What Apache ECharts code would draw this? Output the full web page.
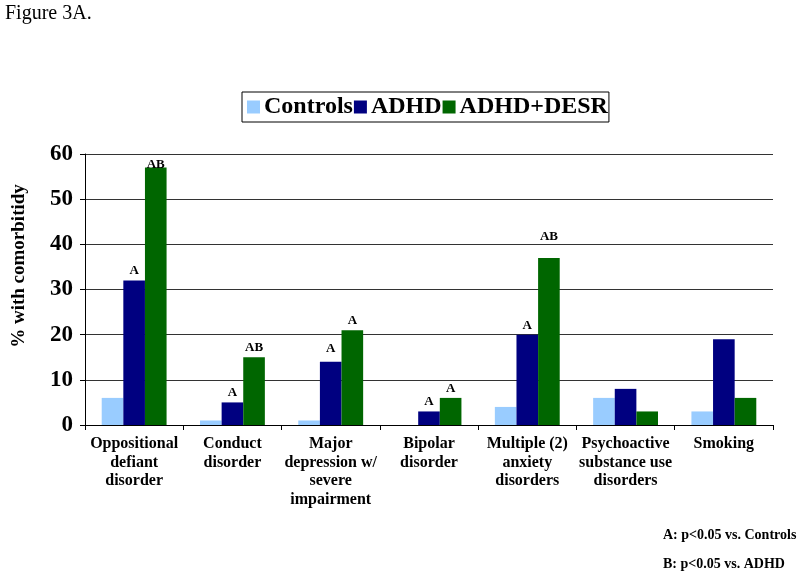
<!DOCTYPE html>
<html>
<head>
<meta charset="utf-8">
<script src="https://cdn.jsdelivr.net/npm/echarts@6/dist/echarts.min.js"></script>
<style>
  html, body { margin: 0; padding: 0; background: #fff; }
  #chart { width: 800px; height: 577px; }
</style>
</head>
<body>
<div id="chart"></div>
<script>
// categories along the x axis
var categories = [
  'Oppositional\ndefiant\ndisorder',
  'Conduct\ndisorder',
  'Major\ndepression w/\nsevere\nimpairment',
  'Bipolar\ndisorder',
  'Multiple (2)\nanxiety\ndisorders',
  'Psychoactive\nsubstance use\ndisorders',
  'Smoking'
];
var seriesNames = ['Controls', 'ADHD', 'ADHD+DESR'];
// % with comorbidity
var controls = [6, 1, 1, 0, 4, 6, 3];
var adhd = [32, 5, 14, 3, 20, 8, 19];
var adhdDesr = [57, 15, 21, 6, 37, 3, 6];
// significance letters over the bars
var sigAdhd = ['A', 'A', 'A', 'A', 'A', '', ''];
var sigDesr = ['AB', 'AB', 'A', 'A', 'AB', '', ''];
var yTicks = [0, 10, 20, 30, 40, 50, 60];

var serif = '"Liberation Serif", "Times New Roman", serif';
var colors = ['#99CCFF', '#000080', '#006600'];

var chart = echarts.init(document.getElementById('chart'));

// a few letters sit higher / lower than the rest in the figure
var lift = { '1-2': 7, '2-4': 15, '2-0': -4 };

function withLetters(values, letters, sIdx) {
  return values.map(function (v, i) {
    var d = { value: v };
    if (letters && letters[i]) {
      var dist = lift[sIdx + '-' + i];
      d.label = {
        show: true,
        position: 'top',
        formatter: letters[i],
        distance: dist === undefined ? 3 : dist
      };
    }
    return d;
  });
}

function barSeries(name, values, letters, sIdx) {
  return {
    name: name,
    type: 'bar',
    barGap: '0%',
    barCategoryGap: '34%',
    itemStyle: { color: colors[sIdx] },
    label: {
      show: false,
      color: '#000',
      fontFamily: serif,
      fontWeight: 'bold',
      fontSize: 13
    },
    data: withLetters(values, letters, sIdx)
  };
}

var option = {
  animation: false,
  backgroundColor: '#fff',
  color: colors,
  legend: {
    left: 242,
    top: 92,
    orient: 'horizontal',
    borderColor: '#000',
    borderWidth: 1,
    padding: [3, 1, 3, 5],
    itemWidth: 13,
    itemHeight: 13,
    itemGap: 1,
    icon: 'rect',
    textStyle: {
      fontFamily: serif,
      fontWeight: 'bold',
      fontSize: 24,
      color: '#000',
      padding: [0, 0, 0, -1]
    },
    data: seriesNames
  },
  grid: {
    left: 85,
    right: 27,
    top: 154,
    bottom: 152
  },
  xAxis: {
    type: 'category',
    data: categories,
    axisLine: { lineStyle: { color: '#000', width: 1 } },
    axisTick: { show: true, interval: 0, length: 5, lineStyle: { color: '#000' } },
    axisLabel: {
      interval: 0,
      margin: 10,
      fontFamily: serif,
      fontWeight: 'bold',
      fontSize: 16,
      lineHeight: 18.5,
      color: '#000',
      verticalAlign: 'top'
    }
  },
  yAxis: {
    type: 'value',
    min: yTicks[0],
    max: yTicks[yTicks.length - 1],
    interval: 10,
    axisLine: { show: true, lineStyle: { color: '#000', width: 1 } },
    axisTick: { show: true, length: 5, lineStyle: { color: '#000' } },
    axisLabel: {
      margin: 12,
      fontFamily: serif,
      fontWeight: 'bold',
      fontSize: 23,
      color: '#000'
    },
    splitLine: { show: true, lineStyle: { color: '#333', width: 1 } }
  },
  graphic: [
    {
      type: 'text',
      left: 5,
      top: 4,
      style: { text: 'Figure 3A.', font: '20px ' + serif, fill: '#000' }
    },
    {
      type: 'text',
      x: 19,
      y: 266,
      rotation: Math.PI / 2,
      style: {
        text: '% with comorbitidy',
        font: 'bold 19px ' + serif,
        fill: '#000',
        align: 'center',
        verticalAlign: 'middle'
      }
    },
    {
      type: 'text',
      left: 663,
      top: 528,
      style: { text: 'A: p<0.05 vs. Controls', font: 'bold 14px ' + serif, fill: '#000' }
    },
    {
      type: 'text',
      left: 663,
      top: 557,
      style: { text: 'B: p<0.05 vs. ADHD', font: 'bold 14px ' + serif, fill: '#000' }
    }
  ],
  series: [
    barSeries(seriesNames[0], controls, null, 0),
    barSeries(seriesNames[1], adhd, sigAdhd, 1),
    barSeries(seriesNames[2], adhdDesr, sigDesr, 2)
  ]
};

chart.setOption(option);

window.onresize = function () {
  chart.resize();
};
</script>
</body>
</html>
